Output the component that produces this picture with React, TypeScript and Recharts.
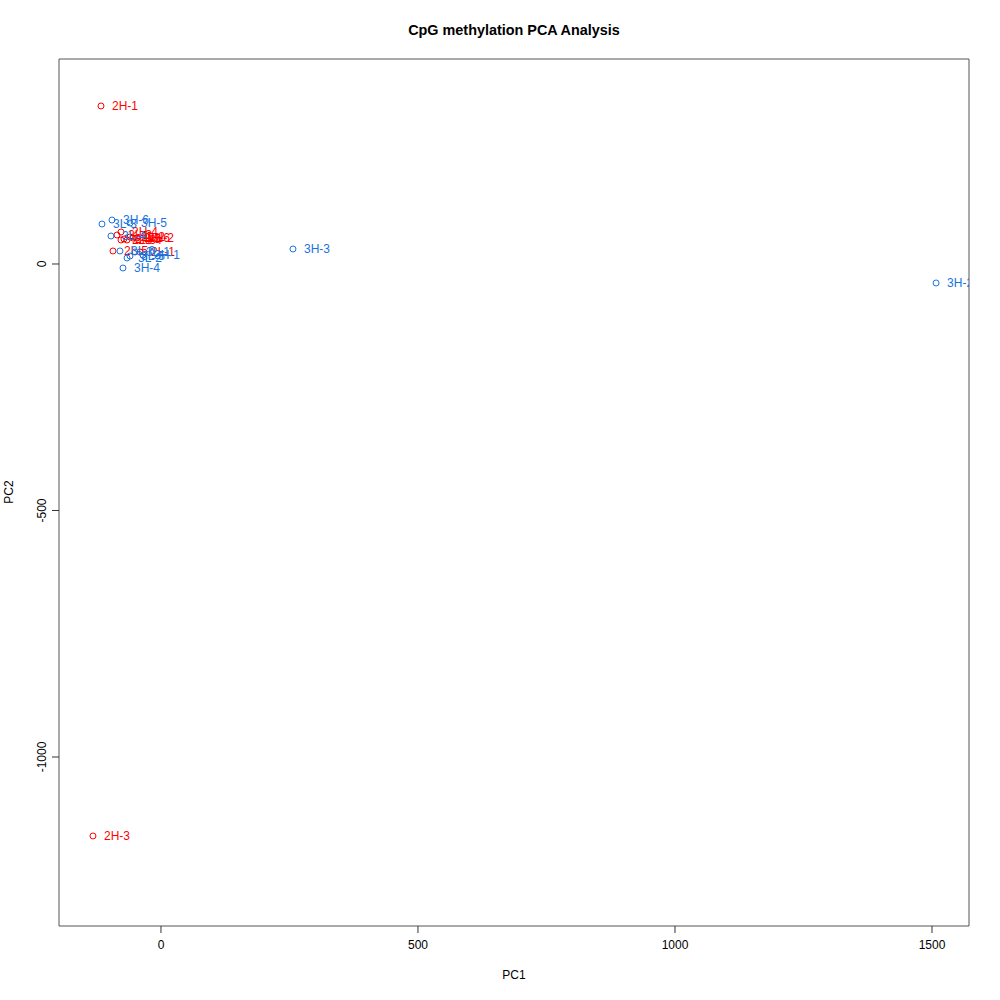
import React from "react";
import { ScatterChart, Scatter, XAxis, YAxis, ReferenceArea } from "recharts";

const sampleNames = [
  "2H-1", "2H-2", "2H-3", "2H-4", "2H-5", "2H-6",
  "2L-1", "2L-2", "2L-3", "2L-4", "2L-5", "2L-6",
  "3H-1", "3H-2", "3H-3", "3H-4", "3H-5", "3H-6",
  "3L-1", "3L-2", "3L-3", "3L-4", "3L-5", "3L-6",
];
const pc1Values = [
  -116.7, -46.7, -132.3, -77.8, -72.0, -54.5,
  -40.9, -60.3, -85.6, -66.1, -93.4, -77.8,
  -35.0, 1508, 256.8, -73.9, -60.3, -95.3,
  -50.6, -66.1, -114.8, -97.3, -60.3, -79.8,
];
const pc2Values = [
  320.5, 52.7, -1160.2, 64.9, 50.7, 52.7,
  24.3, 54.8, 58.8, 48.7, 26.4, 48.7,
  18.3, -38.5, 30.4, -8.1, 83.2, 89.2,
  24.3, 12.2, 81.1, 56.8, 16.2, 26.4,
];
const groupOf = sampleNames.map((n) => n.charAt(0));
const groupColors: Record<string, string> = { "2": "#ff0000", "3": "#1874e0" };

const xTicks = [0, 500, 1000, 1500];
const yTicks = [-1000, -500, 0];
const xDomain = [-198.4, 1572];
const yDomain = [-1342.8, 415.8];

const data = sampleNames.map((name, i) => ({
  name,
  pc1: pc1Values[i],
  pc2: pc2Values[i],
  group: groupOf[i],
}));
const red = data.filter((d) => d.group === "2");
const blue = data.filter((d) => d.group === "3");

const FONT = "'Liberation Sans', Arial, Helvetica, sans-serif";

const PointShape = (props: any) => {
  const { cx, cy, payload } = props;
  const color = groupColors[payload.group];
  const id = `clip-${payload.name}`;
  return (
    <g>
      <defs>
        <clipPath id={id}>
          <rect x={59} y={59} width={910} height={867} />
        </clipPath>
      </defs>
      <g clipPath={`url(#${id})`}>
        <circle cx={cx} cy={cy} r={3} fill="none" stroke={color} strokeWidth={1} />
        <text
          x={cx + 11}
          y={cy}
          dy="0.35em"
          fontSize={12}
          fontFamily={FONT}
          fill={color}
        >
          {payload.name}
        </text>
      </g>
    </g>
  );
};

const YTick = (props: any) => {
  const { x, y, payload } = props;
  return (
    <text
      x={x - 4}
      y={y}
      transform={`rotate(-90, ${x - 4}, ${y})`}
      textAnchor="middle"
      fontSize={12}
      fontFamily={FONT}
      fill="#000"
    >
      {payload.value}
    </text>
  );
};

const XTick = (props: any) => {
  const { x, y, payload } = props;
  return (
    <text
      x={x}
      y={y + 14}
      textAnchor="middle"
      fontSize={12}
      fontFamily={FONT}
      fill="#000"
    >
      {payload.value}
    </text>
  );
};

export default function App() {
  return (
    <div style={{ position: "absolute", left: 0, top: 0, width: 1000, height: 1000, background: "#fff" }}>
      <div
        style={{
          position: "absolute",
          left: 0,
          top: 22,
          width: 1028,
          textAlign: "center",
          fontFamily: FONT,
          fontWeight: "bold",
          fontSize: 14.4,
        }}
      >
        CpG methylation PCA Analysis
      </div>
      <div
        style={{
          position: "absolute",
          left: 0,
          top: 968,
          width: 1028,
          textAlign: "center",
          fontFamily: FONT,
          fontSize: 12,
        }}
      >
        PC1
      </div>
      <div
        style={{
          position: "absolute",
          left: 9,
          top: 492,
          transform: "translate(-50%, -50%) rotate(-90deg)",
          fontFamily: FONT,
          fontSize: 12,
          whiteSpace: "nowrap",
        }}
      >
        PC2
      </div>
      <ScatterChart
        width={1000}
        height={1000}
        margin={{ top: 59, right: 31, bottom: 0, left: 0 }}
        style={{ position: "absolute", left: 0, top: 0 }}
      >
        <XAxis
          type="number"
          dataKey="pc1"
          domain={xDomain}
          ticks={xTicks}
          allowDataOverflow
          height={74}
          axisLine={false}
          tickLine={{ stroke: "#333" }}
          tickSize={7}
          tick={<XTick />}
        />
        <YAxis
          type="number"
          dataKey="pc2"
          domain={yDomain}
          ticks={yTicks}
          allowDataOverflow
          width={59}
          axisLine={false}
          tickLine={{ stroke: "#333" }}
          tickSize={7}
          tick={<YTick />}
        />
        <ReferenceArea
          x1={xDomain[0]}
          x2={xDomain[1]}
          y1={yDomain[0]}
          y2={yDomain[1]}
          fill="none"
          fillOpacity={0}
          stroke="#555"
          strokeWidth={1}
          ifOverflow="visible"
        />
        <Scatter data={red} shape={<PointShape />} isAnimationActive={false} />
        <Scatter data={blue} shape={<PointShape />} isAnimationActive={false} />
      </ScatterChart>
    </div>
  );
}
